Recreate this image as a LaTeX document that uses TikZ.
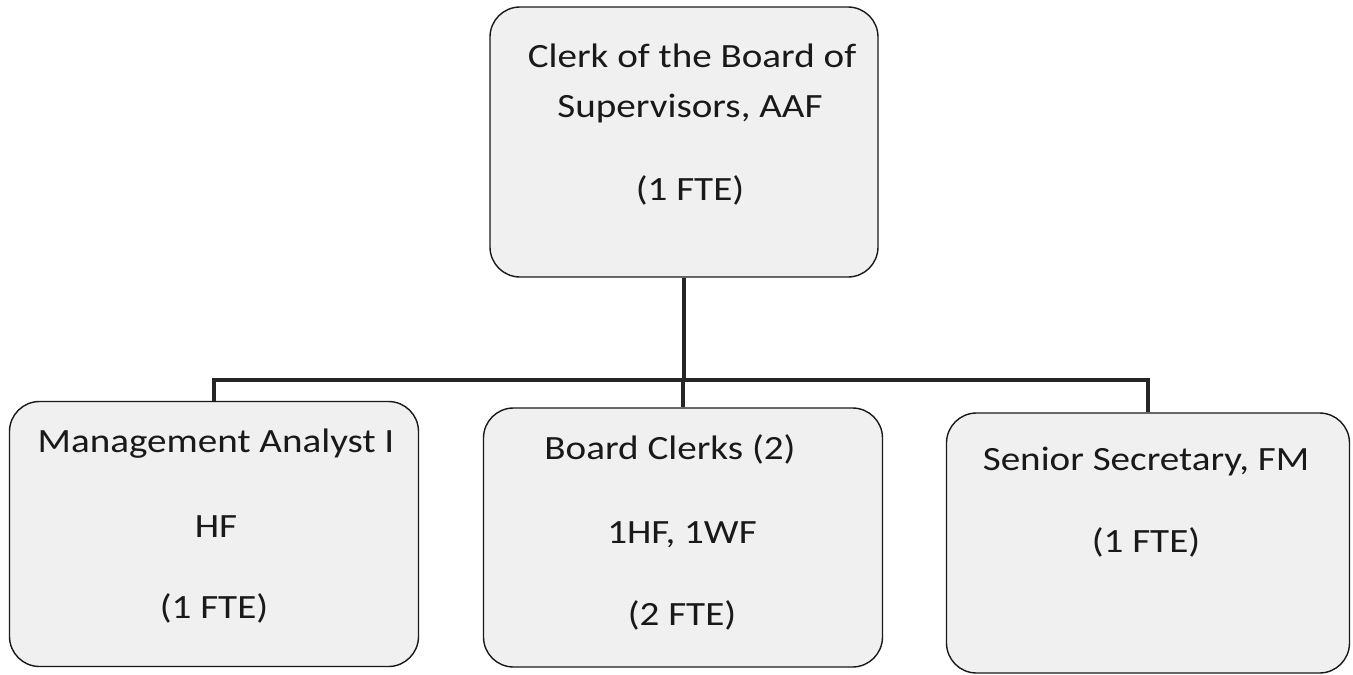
\documentclass[tikz,border=0pt]{standalone}
\usepackage{fontspec}
\usepackage{graphicx}
\setmainfont{Carlito}
\newcommand{\wtxt}[1]{\scalebox{1.15}[1]{#1}}
\begin{document}
\begin{tikzpicture}[x=1pt,y=-1pt,
  orgbox/.style={draw=black!90, line width=1.4pt, fill=black!6, rounded corners=30pt, inner sep=0pt},
  lbl/.style={anchor=base, inner sep=0pt, font=\fontsize{34}{40}\selectfont, text=black!90},
  conn/.style={line width=4pt, draw=black!85}]
\useasboundingbox[fill=white] (0,0) rectangle (1353,675);

\node[orgbox, minimum width=388pt, minimum height=270pt] (top) at (684,142) {};
\node[orgbox, minimum width=409pt, minimum height=265pt] (ma) at (214,534) {};
\node[orgbox, minimum width=399pt, minimum height=259pt] (bc) at (683,537.5) {};
\node[orgbox, minimum width=403pt, minimum height=260pt] (ss) at (1148,543) {};

\coordinate (bus) at (0,380);
\draw[conn] (top.south) -- (top.south |- bus);
\draw[conn] (ma.north) -- (ma.north |- bus) -- (ss.north |- bus) -- (ss.north);
\draw[conn] (bc.north) -- (bc.north |- bus);

\node[lbl] (t1) at (692,67) {\wtxt{Clerk of the Board of}};
\node[lbl] (t2) at (690,117) {\wtxt{Supervisors, AAF}};
\node[lbl] (t3) at (690,200) {\wtxt{(1 FTE)}};

\node[lbl] (m1) at (216,452) {\wtxt{Management Analyst I}};
\node[lbl] (m2) at (216,537) {\wtxt{HF}};
\node[lbl] (m3) at (214,618) {\wtxt{(1 FTE)}};

\node[lbl] (b1) at (670,459) {\wtxt{Board Clerks (2)}};
\node[lbl] (b2) at (682,543) {\wtxt{1HF, 1WF}};
\node[lbl] (b3) at (682,625) {\wtxt{(2 FTE)}};

\node[lbl] (s1) at (1146,470) {\wtxt{Senior Secretary, FM}};
\node[lbl] (s2) at (1146,552) {\wtxt{(1 FTE)}};
\end{tikzpicture}
\end{document}
